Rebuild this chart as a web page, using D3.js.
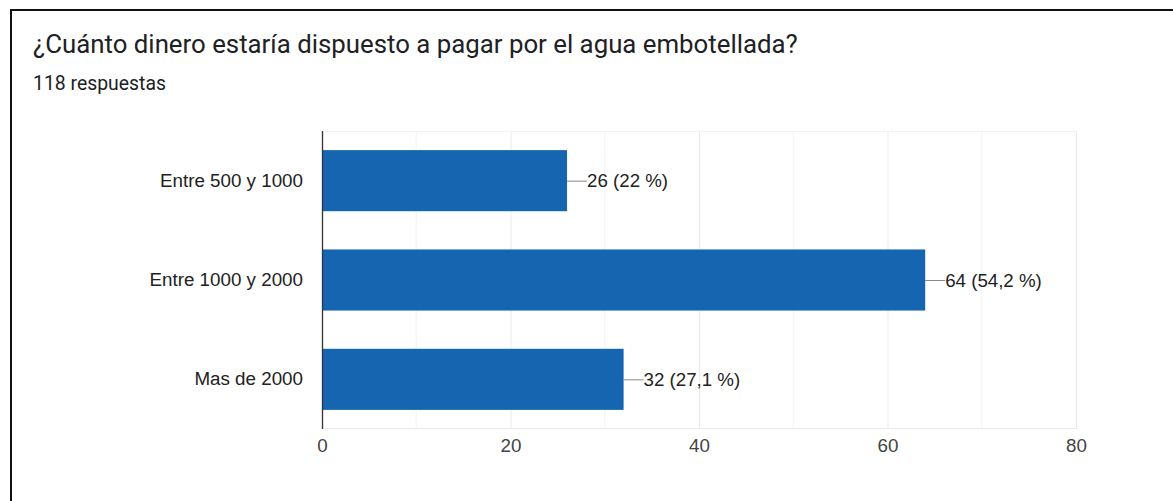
<!DOCTYPE html>
<html>
<head>
<meta charset="utf-8">
<script src="https://cdn.jsdelivr.net/npm/d3@7"></script>
<style>
  html, body { margin: 0; padding: 0; background: #fff; }
  svg { display: block; }
</style>
</head>
<body>
<svg id="chart" width="1173" height="501"></svg>
<script>
// Survey answers: price ranges and number of respondents
const categories = ["Entre 500 y 1000", "Entre 1000 y 2000", "Mas de 2000"];
const counts = [26, 64, 32];
const percentLabels = ["22 %", "54,2 %", "27,1 %"];
const xTicks = [0, 20, 40, 60, 80];
const minorTicks = [10, 30, 50, 70];
const titleText = "¿Cuánto dinero estaría dispuesto a pagar por el agua embotellada?";
const subtitleText = "118 respuestas";

const labelFont = "Arial, 'Liberation Sans', sans-serif";
const svg = d3.select("#chart");

// Card border (top and left edges)
svg.append("line").attr("x1", 11).attr("x2", 1173).attr("y1", 10).attr("y2", 10)
  .attr("stroke", "#111").attr("stroke-width", 2);
svg.append("line").attr("x1", 11).attr("x2", 11).attr("y1", 9).attr("y2", 501)
  .attr("stroke", "#111").attr("stroke-width", 2);

svg.append("text").attr("x", 33).attr("y", 53)
  .attr("font-family", "Roboto, Arial, sans-serif").attr("font-size", 25.8)
  .attr("fill", "#202124").text(titleText);
svg.append("text").attr("x", 33).attr("y", 90)
  .attr("font-family", "Roboto, Arial, sans-serif").attr("font-size", 19.4)
  .attr("fill", "#202124").text(subtitleText);

const plot = { left: 322, right: 1076, top: 131, bottom: 429 };

const x = d3.scaleLinear().domain([0, 80]).range([plot.left, plot.right]);
const y = d3.scaleBand().domain(categories).range([plot.top, plot.bottom])
  .paddingInner(0.385).paddingOuter(0.1925);

const g = svg.append("g");

// Gridlines
g.selectAll("line.minor").data(minorTicks).join("line")
  .attr("x1", d => x(d)).attr("x2", d => x(d))
  .attr("y1", plot.top).attr("y2", plot.bottom)
  .attr("stroke", "#f3f3f3").attr("stroke-width", 1);
g.selectAll("line.major").data(xTicks.slice(1)).join("line")
  .attr("x1", d => x(d) + 0.5).attr("x2", d => x(d) + 0.5)
  .attr("y1", plot.top).attr("y2", plot.bottom)
  .attr("stroke", "#ebebeb").attr("stroke-width", 1);
g.append("line").attr("x1", plot.left).attr("x2", plot.right)
  .attr("y1", plot.top + 0.5).attr("y2", plot.top + 0.5)
  .attr("stroke", "#f3f3f3");
g.append("line").attr("x1", plot.left).attr("x2", plot.right)
  .attr("y1", plot.bottom - 0.5).attr("y2", plot.bottom - 0.5)
  .attr("stroke", "#ebebeb");

// Bars
g.selectAll("rect.bar").data(categories).join("rect")
  .attr("x", x(0)).attr("y", d => y(d))
  .attr("width", (d, i) => x(counts[i]) - x(0))
  .attr("height", y.bandwidth())
  .attr("fill", "#1565b0");

// Vertical baseline
g.append("line").attr("x1", plot.left + 0.5).attr("x2", plot.left + 0.5)
  .attr("y1", plot.top).attr("y2", plot.bottom)
  .attr("stroke", "#333").attr("stroke-width", 1.3);

// Value labels with leader lines
categories.forEach((c, i) => {
  const cy = y(c) + y.bandwidth() / 2;
  const x0 = x(counts[i]);
  g.append("line").attr("x1", x0).attr("x2", x0 + 20)
    .attr("y1", cy + 0.5).attr("y2", cy + 0.5)
    .attr("stroke", "#888").attr("stroke-width", 1);
  g.append("text").attr("x", x0 + 20).attr("y", cy)
    .attr("dy", "0.35em")
    .attr("font-family", labelFont).attr("font-size", 18.7)
    .attr("fill", "#222").text(`${counts[i]} (${percentLabels[i]})`);
});

// Category labels
const yAxis = d3.axisLeft(y).tickSize(0).tickPadding(19);
svg.append("g").attr("transform", `translate(${plot.left},0)`).call(yAxis)
  .call(s => s.select(".domain").remove())
  .selectAll("text")
  .attr("font-family", labelFont).attr("font-size", 18.8)
  .attr("fill", "#222");

// X axis ticks
const xAxis = d3.axisBottom(x).tickValues(xTicks).tickSize(0).tickPadding(10);
svg.append("g").attr("transform", `translate(0,${plot.bottom})`).call(xAxis)
  .call(s => s.select(".domain").remove())
  .selectAll("text")
  .attr("font-family", labelFont).attr("font-size", 18.8)
  .attr("fill", "#444");
</script>
</body>
</html>
